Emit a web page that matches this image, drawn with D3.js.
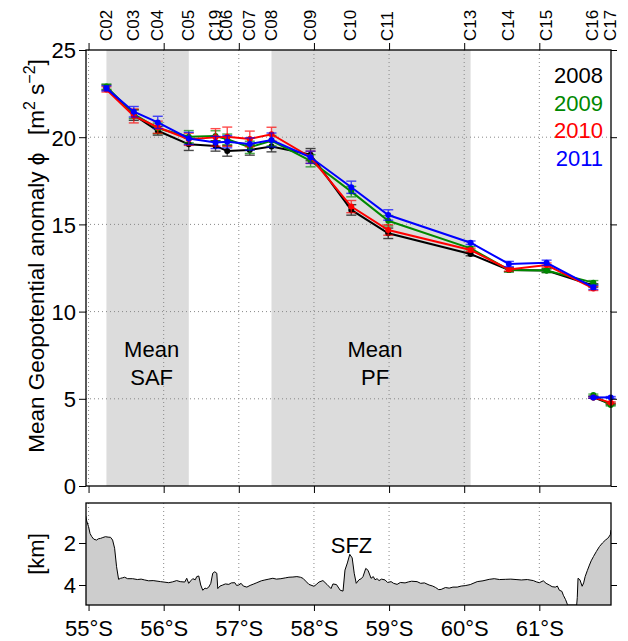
<!DOCTYPE html>
<html>
<head>
<meta charset="utf-8">
<script src="https://cdn.jsdelivr.net/npm/d3@7"></script>
<style>
  body { margin: 0; background: #fff; }
  svg text { font-family: "Liberation Sans", Arial, Helvetica, sans-serif; }
</style>
</head>
<body>
<div id="chart"></div>
<script>
// Stations along the section (latitude, degrees south)
var stations = ['C02', 'C03', 'C04', 'C05', 'C19', 'C06', 'C07', 'C08', 'C09', 'C10', 'C11', 'C13', 'C14', 'C15', 'C16', 'C17'];
var stationLat = [55.238, 55.602, 55.921, 56.334, 56.690, 56.846, 57.146, 57.435, 57.955, 58.497, 58.989, 60.085, 60.595, 61.097, 61.719, 61.95];

var years = ['2008', '2009', '2010', '2011'];
var yearColors = ['#000000', '#008800', '#ff0000', '#0000ff'];

// mean geopotential anomaly, C02 .. C16
var phi2008 = [22.85, 21.27, 20.37, 19.59, 19.50, 19.21, 19.27, 19.46, 19.00, 15.83, 14.49, 13.30, 12.39, 12.35, 11.50];
var phi2009 = [22.90, 21.33, 20.51, 20.03, 20.07, 19.88, 19.42, 19.80, 18.65, 16.88, 15.21, 13.63, 12.39, 12.35, 11.66];
var phi2010 = [22.74, 21.22, 20.57, 19.88, 19.99, 20.03, 19.90, 20.17, 18.85, 16.02, 14.68, 13.53, 12.42, 12.67, 11.33];
var phi2011 = [22.80, 21.46, 20.85, 19.93, 19.70, 19.74, 19.61, 19.84, 18.85, 17.13, 15.54, 13.95, 12.73, 12.80, 11.39];
// error bar half-widths
var err2008 = [0.15, 0.30, 0.25, 0.35, 0.30, 0.30, 0.30, 0.30, 0.35, 0.30, 0.30, 0.10, 0.10, 0.10, 0.10];
var err2009 = [0.15, 0.25, 0.30, 0.35, 0.30, 0.30, 0.35, 0.30, 0.35, 0.30, 0.30, 0.10, 0.12, 0.12, 0.12];
var err2010 = [0.15, 0.40, 0.35, 0.35, 0.50, 0.55, 0.45, 0.40, 0.35, 0.35, 0.30, 0.10, 0.10, 0.12, 0.12];
var err2011 = [0.15, 0.30, 0.35, 0.35, 0.35, 0.35, 0.35, 0.40, 0.35, 0.35, 0.30, 0.10, 0.15, 0.15, 0.12];
// shallow pair C16 - C17
var tail2008 = [5.08, 4.70];
var tail2009 = [5.22, 4.64];
var tail2010 = [5.08, 4.78];
var tail2011 = [5.08, 5.08];

// front bands (station index ranges)
var fronts = [{name: ['Mean', 'SAF'], from: 0, to: 3}, {name: ['Mean', 'PF'], from: 7, to: 11}];

var yTicks = [0, 5, 10, 15, 20, 25];
var yGrid = [5, 10, 15, 20];
var latTicks = [55, 56, 57, 58, 59, 60, 61];
var depthTicks = [2, 4];

// bathymetry along the section: latitude, depth [km]
var bathyLat = [54.963, 54.975, 55.0, 55.02, 55.043, 55.07, 55.107, 55.13, 55.16, 55.19, 55.224, 55.26, 55.293, 55.32, 55.347, 55.373, 55.4, 55.427, 55.45, 55.48, 55.52, 55.587, 55.65, 55.70, 55.747, 55.80, 55.86, 55.96, 56.067, 56.12, 56.173, 56.22, 56.28, 56.307, 56.333, 56.36, 56.387, 56.42, 56.44, 56.467, 56.493, 56.52, 56.55, 56.573, 56.60, 56.627, 56.653, 56.68, 56.707, 56.72, 56.75, 56.787, 56.82, 56.867, 56.90, 56.947, 56.97, 57.0, 57.03, 57.06, 57.107, 57.15, 57.20, 57.24, 57.30, 57.347, 57.40, 57.453, 57.50, 57.56, 57.62, 57.667, 57.72, 57.773, 57.82, 57.853, 57.90, 57.933, 58.0, 58.03, 58.067, 58.12, 58.173, 58.227, 58.253, 58.30, 58.35, 58.387, 58.413, 58.445, 58.477, 58.509, 58.536, 58.563, 58.60, 58.63, 58.653, 58.69, 58.72, 58.76, 58.79, 58.813, 58.84, 58.867, 58.90, 58.947, 58.98, 59.027, 59.06, 59.107, 59.15, 59.213, 59.26, 59.30, 59.373, 59.42, 59.47, 59.533, 59.58, 59.62, 59.66, 59.693, 59.75, 59.80, 59.85, 59.907, 59.96, 60.013, 60.08, 60.173, 60.25, 60.333, 60.40, 60.47, 60.547, 60.62, 60.69, 60.76, 60.84, 60.92, 60.96, 61.0, 61.053, 61.09, 61.133, 61.17, 61.213, 61.24, 61.267, 61.30, 61.32, 61.35, 61.373, 61.39, 61.45, 61.497, 61.505, 61.515, 61.54, 61.57, 61.59, 61.61, 61.64, 61.667, 61.69, 61.72, 61.76, 61.8, 61.84, 61.88, 61.91, 61.933, 61.945, 61.954];
var bathyDepth = [0.71, 0.95, 1.22, 1.55, 1.70, 1.82, 1.86, 1.80, 1.78, 1.74, 1.70, 1.72, 1.73, 1.86, 2.25, 3.13, 3.73, 3.68, 3.66, 3.63, 3.70, 3.70, 3.74, 3.72, 3.76, 3.80, 3.79, 3.84, 3.89, 3.85, 3.79, 3.84, 3.86, 3.68, 3.92, 3.80, 3.70, 3.75, 3.60, 3.57, 4.00, 4.25, 4.15, 4.17, 4.10, 3.92, 3.44, 3.37, 3.44, 4.17, 4.05, 4.00, 3.95, 3.97, 3.90, 3.89, 4.02, 4.00, 3.92, 4.05, 4.10, 4.02, 3.95, 3.89, 3.80, 3.76, 3.72, 3.68, 3.72, 3.70, 3.66, 3.63, 3.62, 3.60, 3.63, 3.68, 3.85, 3.97, 4.06, 3.98, 3.86, 3.79, 3.97, 4.17, 3.95, 3.98, 4.25, 4.29, 3.29, 2.95, 2.54, 2.71, 3.44, 3.92, 3.75, 3.70, 3.60, 3.21, 3.30, 3.68, 3.60, 3.75, 3.70, 3.79, 3.72, 3.76, 3.88, 3.84, 3.92, 3.97, 3.88, 3.90, 3.85, 3.82, 3.84, 3.92, 3.90, 4.00, 4.05, 4.12, 4.22, 4.21, 4.12, 4.15, 4.10, 4.10, 4.05, 4.03, 3.98, 3.84, 3.80, 3.73, 3.70, 3.74, 3.73, 3.72, 3.74, 3.76, 3.74, 3.79, 3.85, 3.89, 3.80, 3.92, 4.00, 4.08, 4.10, 4.05, 4.25, 4.30, 4.49, 4.70, 4.92, 4.96, 4.96, 4.96, 4.60, 3.68, 3.75, 4.06, 3.90, 3.60, 3.30, 3.05, 2.85, 2.65, 2.40, 2.17, 2.00, 1.86, 1.78, 1.67, 1.60, 1.38];

var W = 628, H = 641;
var left = 86, right = 611;
var top1 = 50, bottom1 = 486;
var top2 = 503, bottom2 = 605;
var font = '"Liberation Sans", Arial, Helvetica, sans-serif';

var svg = d3.select('#chart').append('svg')
    .attr('width', W).attr('height', H);

var x = d3.scaleLinear().domain([54.966, 61.954]).range([left, right]);
var y = d3.scaleLinear().domain([0, 25]).range([bottom1, top1]);
var yd = d3.scaleLinear().domain([0, 5]).range([501, 606]);

function latLabel(d) { return d + '\u00B0S'; }

// ---------- top panel ----------
var upper = svg.append('g');

// front bands
upper.selectAll('.band').data(fronts).enter().append('rect')
    .attr('x', function(d) { return x(stationLat[d.from]); })
    .attr('width', function(d) { return x(stationLat[d.to]) - x(stationLat[d.from]); })
    .attr('y', top1).attr('height', bottom1 - top1)
    .attr('fill', '#dcdcdc');

// grid
upper.selectAll('.vgrid').data(latTicks).enter().append('line')
    .attr('x1', function(d) { return x(d); }).attr('x2', function(d) { return x(d); })
    .attr('y1', top1).attr('y2', bottom1)
    .attr('stroke', '#888').attr('stroke-dasharray', '1,3');
upper.selectAll('.hgrid').data(yGrid).enter().append('line')
    .attr('x1', left).attr('x2', right)
    .attr('y1', function(d) { return y(d); }).attr('y2', function(d) { return y(d); })
    .attr('stroke', '#888').attr('stroke-dasharray', '1,3');

// front labels
fronts.forEach(function(f) {
    var cx = (x(stationLat[f.from]) + x(stationLat[f.to])) / 2 + 4;
    f.name.forEach(function(s, i) {
        upper.append('text').attr('x', cx).attr('y', 357 + i * 28)
            .attr('text-anchor', 'middle').attr('font-size', 22).text(s);
    });
});

// series
var series = [
    {vals: phi2008, err: err2008, tail: tail2008},
    {vals: phi2009, err: err2009, tail: tail2009},
    {vals: phi2010, err: err2010, tail: tail2010},
    {vals: phi2011, err: err2011, tail: tail2011}
];
var line = d3.line()
    .x(function(d) { return x(d[0]); })
    .y(function(d) { return y(d[1]); });

series.forEach(function(s, k) {
    var col = yearColors[k];
    var g = upper.append('g');
    var pts = s.vals.map(function(v, i) { return [stationLat[i], v, s.err[i]]; });
    var n = stationLat.length;
    var tailPts = [[stationLat[n - 2], s.tail[0], 0.05], [stationLat[n - 1], s.tail[1], 0.05]];

    [pts, tailPts].forEach(function(p) {
        // error bars
        var eb = g.append('g').attr('stroke', col).attr('stroke-width', 1.4).attr('opacity', 0.7);
        p.forEach(function(d) {
            var cx = x(d[0]), y0 = y(d[1] - d[2]), y1 = y(d[1] + d[2]);
            eb.append('line').attr('x1', cx).attr('x2', cx).attr('y1', y0).attr('y2', y1);
            eb.append('line').attr('x1', cx - 5).attr('x2', cx + 5).attr('y1', y0).attr('y2', y0);
            eb.append('line').attr('x1', cx - 5).attr('x2', cx + 5).attr('y1', y1).attr('y2', y1);
        });
        g.append('path').datum(p).attr('d', line)
            .attr('fill', 'none').attr('stroke', col).attr('stroke-width', 2);
        g.selectAll(null).data(p).enter().append('circle')
            .attr('cx', function(d) { return x(d[0]); })
            .attr('cy', function(d) { return y(d[1]); })
            .attr('r', 3).attr('fill', col);
    });
});

// legend
years.forEach(function(yr, i) {
    upper.append('text').attr('x', 603).attr('y', 83 + i * 27.7)
        .attr('text-anchor', 'end').attr('font-size', 22)
        .attr('fill', yearColors[i]).text(yr);
});

// axes
var axL = upper.append('g').attr('transform', 'translate(' + left + ',0)')
    .call(d3.axisLeft(y).tickValues(yTicks).tickSize(7).tickPadding(3).tickFormat(d3.format('d')));
var axR = upper.append('g').attr('transform', 'translate(' + right + ',0)')
    .call(d3.axisRight(y).tickValues(yTicks).tickSize(6).tickFormat(''));
var axT = upper.append('g').attr('transform', 'translate(0,' + top1 + ')')
    .call(d3.axisTop(x).tickValues(latTicks).tickSize(7).tickFormat(''));
var axB = upper.append('g').attr('transform', 'translate(0,' + bottom1 + ')')
    .call(d3.axisBottom(x).tickValues(latTicks).tickSize(7).tickFormat(''));
[axL, axR, axT, axB].forEach(function(a) {
    a.select('.domain').remove();
    a.selectAll('text').attr('font-size', 22).attr('font-family', font).attr('fill', '#000');
});
axL.selectAll('text').attr('dy', '0.36em');

upper.append('rect').attr('x', left).attr('y', top1)
    .attr('width', right - left).attr('height', bottom1 - top1)
    .attr('fill', 'none').attr('stroke', '#000').attr('stroke-width', 1.3);

// station labels on top
upper.selectAll('.stn').data(stations).enter().append('text')
    .attr('transform', function(d, i) {
        return 'translate(' + (x(stationLat[i]) - 1) + ',' + (top1 - 9) + ') rotate(-90)';
    })
    .attr('dy', '0.36em').attr('font-size', 17)
    .text(function(d) { return d; });

// y label
var yl = svg.append('text')
    .attr('transform', 'translate(44,256) rotate(-90)')
    .attr('text-anchor', 'middle').attr('font-size', 22.5);
yl.append('tspan').text('Mean Geopotential anomaly \u03D5\u2002 [m');
yl.append('tspan').attr('dy', -9).attr('font-size', 16).text('2');
yl.append('tspan').attr('dy', 9).text(' s');
yl.append('tspan').attr('dy', -9).attr('font-size', 16).text('\u22122');
yl.append('tspan').attr('dy', 9).text(']');

// ---------- bottom panel ----------
var lower = svg.append('g');
svg.append('clipPath').attr('id', 'clip2').append('rect')
    .attr('x', left).attr('y', top2).attr('width', right - left).attr('height', bottom2 - top2);

lower.selectAll('.vgrid2').data(latTicks).enter().append('line')
    .attr('x1', function(d) { return x(d); }).attr('x2', function(d) { return x(d); })
    .attr('y1', top2).attr('y2', bottom2)
    .attr('stroke', '#888').attr('stroke-dasharray', '1,3');

var bathy = bathyLat.map(function(l, i) { return [l, bathyDepth[i]]; });
var area = d3.area()
    .x(function(d) { return x(d[0]); })
    .y0(bottom2 + 2)
    .y1(function(d) { return yd(d[1]); });
var bathyLine = d3.line()
    .x(function(d) { return x(d[0]); })
    .y(function(d) { return yd(d[1]); });
var bg = lower.append('g').attr('clip-path', 'url(#clip2)');
bg.append('path').datum(bathy).attr('d', area).attr('fill', '#cdcdcd');
bg.append('path').datum(bathy).attr('d', bathyLine)
    .attr('fill', 'none').attr('stroke', '#000').attr('stroke-width', 1);

lower.append('text').attr('x', x(58.5)).attr('y', 553)
    .attr('text-anchor', 'middle').attr('font-size', 22).text('SFZ');

var bL = lower.append('g').attr('transform', 'translate(' + left + ',0)')
    .call(d3.axisLeft(yd).tickValues(depthTicks).tickSize(7).tickPadding(3).tickFormat(d3.format('d')));
var bR = lower.append('g').attr('transform', 'translate(' + right + ',0)')
    .call(d3.axisRight(yd).tickValues(depthTicks).tickSize(6).tickFormat(''));
var bB = lower.append('g').attr('transform', 'translate(0,' + bottom2 + ')')
    .call(d3.axisBottom(x).tickValues(latTicks).tickSize(6).tickPadding(9).tickFormat(latLabel));
[bL, bR, bB].forEach(function(a) {
    a.select('.domain').remove();
    a.selectAll('text').attr('font-size', 22).attr('font-family', font).attr('fill', '#000');
});
bL.selectAll('text').attr('dy', '0.36em');

lower.append('rect').attr('x', left).attr('y', top2)
    .attr('width', right - left).attr('height', bottom2 - top2)
    .attr('fill', 'none').attr('stroke', '#000').attr('stroke-width', 1.3);

svg.append('text')
    .attr('transform', 'translate(44,' + ((top2 + bottom2) / 2) + ') rotate(-90)')
    .attr('text-anchor', 'middle').attr('font-size', 22).text('[km]');
</script>
</body>
</html>
